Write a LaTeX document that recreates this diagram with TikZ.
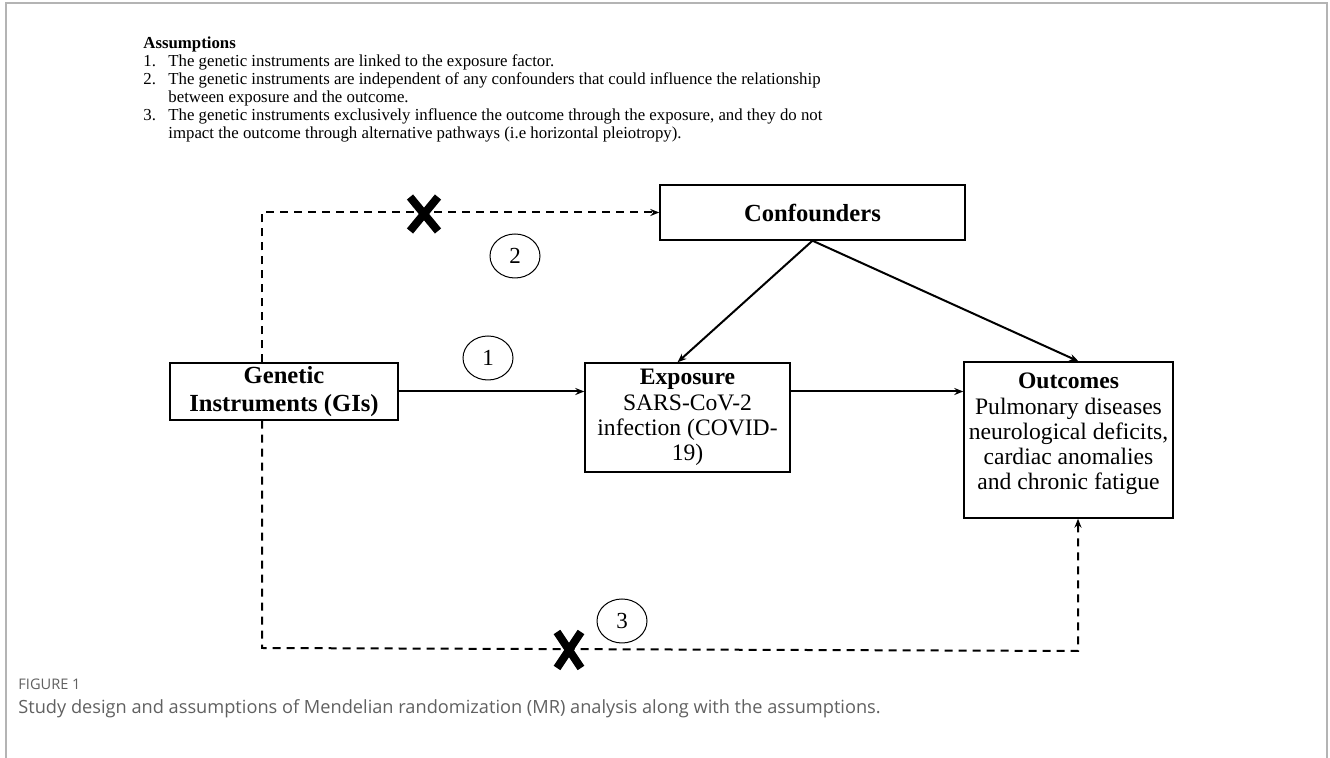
\documentclass[tikz,border=0pt]{standalone}
\usepackage{fontspec}
\setmainfont{Liberation Serif}
\newfontfamily\captionfont{Open Sans}
\usetikzlibrary{arrows.meta,shapes.geometric,shapes.misc}
\definecolor{framegray}{HTML}{B4B4B4}
\definecolor{captiongray}{HTML}{606060}
\begin{document}
\begin{tikzpicture}[x=0.5pt,y=-0.5pt,
  block/.style={draw=black,line width=0.7pt,align=center,inner sep=0pt,
    font=\fontsize{11.8}{12.6}\selectfont},
  boldblock/.style={block,font=\bfseries\fontsize{12.3}{14}\selectfont},
  link/.style={line width=1pt,-{Stealth[length=4.5pt,width=3.5pt]}},
  dashlink/.style={link,dash pattern=on 4pt off 3pt},
  badge/.style={draw=black,ellipse,line width=0.5pt,minimum width=25pt,
    minimum height=22pt,inner sep=0pt,font=\fontsize{11.5}{12}\selectfont},
  blocked/.style={cross out,draw=black,line width=4pt,inner sep=0pt}]
  \useasboundingbox (0,0) rectangle (1330,758);
  % page frame
  \draw[framegray,line width=1pt] (6,758) -- (6,3) -- (1327,3) -- (1327,758);
  % assumptions
  \node[anchor=north west,inner sep=0pt,font=\fontsize{8.4}{9}\selectfont]
    (assumptions) at (143,36) {%
    \begin{tabular}{@{}p{12.5pt}@{}l@{}}
      \multicolumn{2}{@{}l}{\textbf{Assumptions}}\\
      1. & The genetic instruments are linked to the exposure factor.\\
      2. & The genetic instruments are independent of any confounders that could influence the relationship\\
         & between exposure and the outcome.\\
      3. & The genetic instruments exclusively influence the outcome through the exposure, and they do not\\
         & impact the outcome through alternative pathways (i.e horizontal pleiotropy).
    \end{tabular}};
  % boxes
  \node[boldblock,minimum width=152.5pt,minimum height=27.5pt]
    (confounders) at (812.5,212.5) {Confounders};
  \node[boldblock,minimum width=114pt,minimum height=28.5pt]
    (gi) at (284,391.5) {Genetic\\Instruments (GIs)};
  \node[block,minimum width=102.5pt,minimum height=54.5pt]
    (exposure) at (687.5,417.5) {\textbf{Exposure}\\SARS-CoV-2\\infection (COVID-\\19)};
  \node[block,minimum width=104.5pt,minimum height=78pt]
    (outcomes) at (1068.5,440) {\textbf{Outcomes}\\Pulmonary diseases\\neurological deficits,\\cardiac anomalies\\and chronic fatigue\\[-4pt]\mbox{}};
  % numbered assumptions
  \node[badge] (one) at (488,358) {1};
  \node[badge] (two) at (515,256) {2};
  \node[badge] (three) at (622,621) {3};
  % arrows
  \draw[link] (gi.east) -- (gi.east -| exposure.west);
  \draw[link] (exposure.east |- gi.east) -- (gi.east -| outcomes.west);
  \draw[link] (confounders.south) -- ([xshift=-5pt]exposure.north);
  \draw[link] (confounders.south) -- ([xshift=5pt]outcomes.north);
  \draw[dashlink] ([xshift=-11pt]gi.north) |- (confounders.west);
  \coordinate (low left) at (262,648);
  \coordinate (low right) at (1078,651);
  \draw[dashlink] ([xshift=-11pt]gi.south) -- (low left) -- (low right)
    -- (low right |- outcomes.south);
  % violated paths
  \node[blocked,minimum width=10pt,minimum height=13pt] (cut two) at (424,214) {};
  \node[blocked,minimum width=8pt,minimum height=14pt] (cut three) at (569,650) {};
  % caption
  \node[anchor=base west,inner sep=0pt,text=captiongray,
    font=\captionfont\fontsize{7.3}{8}\selectfont] (figlabel) at (18,690) {FIGURE 1};
  \node[anchor=base west,inner sep=0pt,text=captiongray,
    font=\captionfont\fontsize{9.1}{10}\selectfont] (caption) at (18,714)
    {Study design and assumptions of Mendelian randomization (MR) analysis along with the assumptions.};
\end{tikzpicture}
\end{document}
